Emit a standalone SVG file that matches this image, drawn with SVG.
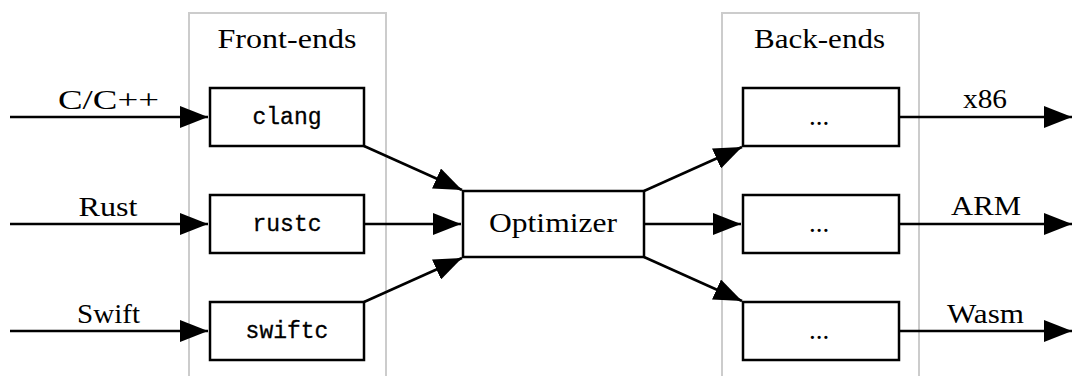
<svg xmlns="http://www.w3.org/2000/svg" width="1074" height="376" viewBox="0 0 1074 376">
<style>
.cl{fill:none;stroke:#cccccc;stroke-width:2}
.nd{fill:#ffffff;stroke:#000;stroke-width:2.5}
.t{font-family:"Liberation Serif","Times New Roman",serif;font-size:27px;fill:#000;text-anchor:middle}
.m{font-family:"Liberation Mono","Courier New",monospace;font-size:23px;fill:#000;text-anchor:middle;stroke:#000;stroke-width:0.3}
.e{fill:none;stroke:#000;stroke-width:2.5}
</style>
<defs>
<marker id="ah" viewBox="0 0 28 22" refX="28" refY="11" markerWidth="28" markerHeight="22" markerUnits="userSpaceOnUse" orient="auto">
<path d="M0,0 L28,11 L0,22 Z" fill="#000"/>
</marker>
</defs>
<rect width="1074" height="376" fill="#fff"/>
<g id="cluster-frontends">
<rect class="cl" x="189" y="13" width="197" height="380"/>
<text class="t" x="287" y="48" textLength="139" lengthAdjust="spacingAndGlyphs">Front-ends</text>
</g>
<g id="cluster-backends">
<rect class="cl" x="722" y="13" width="197" height="380"/>
<text class="t" x="819.5" y="48" textLength="131" lengthAdjust="spacingAndGlyphs">Back-ends</text>
</g>
<g id="connectors">
<path class="e" d="M10,117 L208,117" marker-end="url(#ah)"/>
<path class="e" d="M10,224 L208,224" marker-end="url(#ah)"/>
<path class="e" d="M10,331 L208,331" marker-end="url(#ah)"/>
<path class="e" d="M364,146 L462,190" marker-end="url(#ah)"/>
<path class="e" d="M364,224 L461,224" marker-end="url(#ah)"/>
<path class="e" d="M364,302 L462,258" marker-end="url(#ah)"/>
<path class="e" d="M644,191 L742,147" marker-end="url(#ah)"/>
<path class="e" d="M644,224 L741,224" marker-end="url(#ah)"/>
<path class="e" d="M644,257 L742,301" marker-end="url(#ah)"/>
<path class="e" d="M899,117 L1072,117" marker-end="url(#ah)"/>
<path class="e" d="M899,224 L1072,224" marker-end="url(#ah)"/>
<path class="e" d="M899,331 L1072,331" marker-end="url(#ah)"/>
<text class="t" x="108.5" y="109" textLength="101" lengthAdjust="spacingAndGlyphs">C/C++</text>
<text class="t" x="108" y="216" textLength="59" lengthAdjust="spacingAndGlyphs">Rust</text>
<text class="t" x="108.5" y="323" textLength="63" lengthAdjust="spacingAndGlyphs">Swift</text>
<text class="t" x="985" y="108" textLength="44" lengthAdjust="spacingAndGlyphs">x86</text>
<text class="t" x="986" y="215" textLength="70" lengthAdjust="spacingAndGlyphs">ARM</text>
<text class="t" x="985.5" y="323" textLength="77" lengthAdjust="spacingAndGlyphs">Wasm</text>
</g>
<g id="node-clang">
<rect class="nd" x="210" y="88" width="154" height="58"/>
<text class="m" x="287" y="124">clang</text>
</g>
<g id="node-rustc">
<rect class="nd" x="210" y="195" width="154" height="58"/>
<text class="m" x="287" y="231">rustc</text>
</g>
<g id="node-swiftc">
<rect class="nd" x="210" y="302" width="154" height="58"/>
<text class="m" x="287" y="338">swiftc</text>
</g>
<g id="node-optimizer">
<rect class="nd" x="463" y="191" width="181" height="66"/>
<text class="t" x="553" y="232" textLength="128" lengthAdjust="spacingAndGlyphs">Optimizer</text>
</g>
<g id="node-be1">
<rect class="nd" x="743" y="88" width="156" height="58"/>
<text class="t" x="819" y="125">...</text>
</g>
<g id="node-be2">
<rect class="nd" x="743" y="195" width="156" height="58"/>
<text class="t" x="819" y="232">...</text>
</g>
<g id="node-be3">
<rect class="nd" x="743" y="302" width="156" height="58"/>
<text class="t" x="819" y="339">...</text>
</g>
</svg>
